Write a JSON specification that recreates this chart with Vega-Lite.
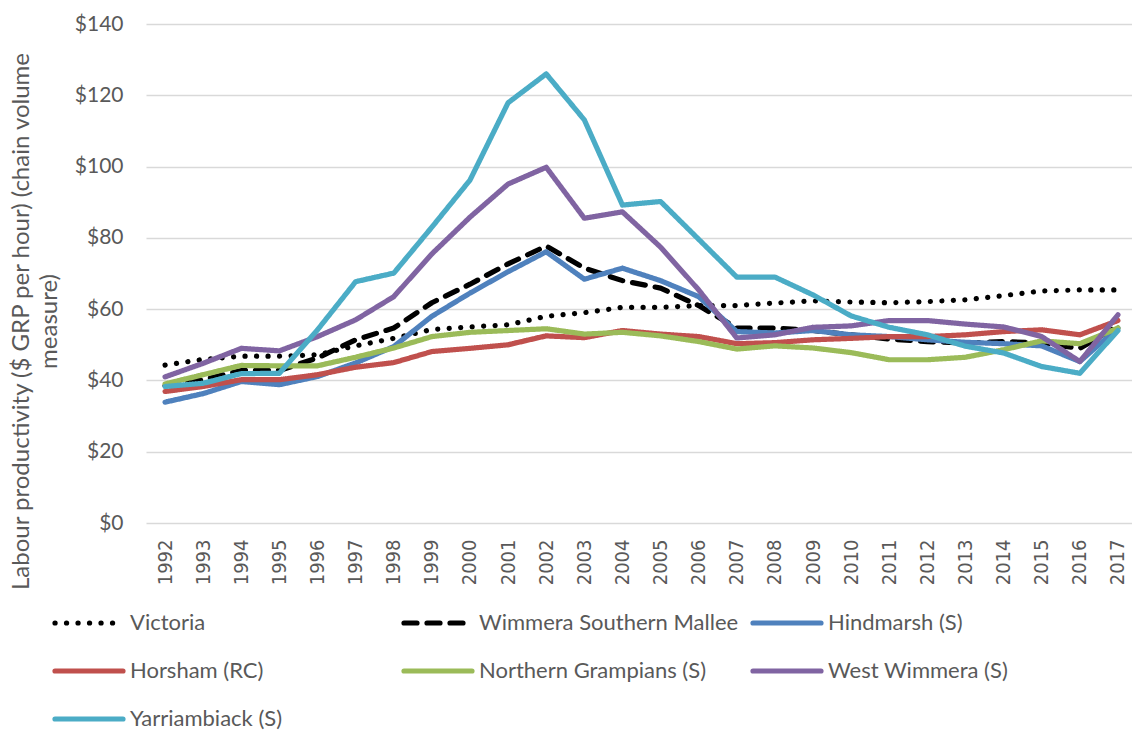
{
  "$schema": "https://vega.github.io/schema/vega-lite/v6.json",
  "autosize": "none",
  "width": 991,
  "height": 499,
  "padding": {"left": 146, "top": 24, "right": 0, "bottom": 208},
  "background": "white",
  "config": {"view": {"stroke": null}, "font": "Lato"},
  "data": {"values": [
    {"year": "1992", "series": "Victoria", "value": 44.3},
    {"year": "1993", "series": "Victoria", "value": 45.9},
    {"year": "1994", "series": "Victoria", "value": 46.8},
    {"year": "1995", "series": "Victoria", "value": 46.8},
    {"year": "1996", "series": "Victoria", "value": 47.2},
    {"year": "1997", "series": "Victoria", "value": 49.7},
    {"year": "1998", "series": "Victoria", "value": 51.8},
    {"year": "1999", "series": "Victoria", "value": 54.3},
    {"year": "2000", "series": "Victoria", "value": 55.0},
    {"year": "2001", "series": "Victoria", "value": 55.6},
    {"year": "2002", "series": "Victoria", "value": 58.0},
    {"year": "2003", "series": "Victoria", "value": 59.0},
    {"year": "2004", "series": "Victoria", "value": 60.5},
    {"year": "2005", "series": "Victoria", "value": 60.5},
    {"year": "2006", "series": "Victoria", "value": 61.0},
    {"year": "2007", "series": "Victoria", "value": 61.0},
    {"year": "2008", "series": "Victoria", "value": 61.7},
    {"year": "2009", "series": "Victoria", "value": 62.3},
    {"year": "2010", "series": "Victoria", "value": 62.0},
    {"year": "2011", "series": "Victoria", "value": 61.8},
    {"year": "2012", "series": "Victoria", "value": 62.1},
    {"year": "2013", "series": "Victoria", "value": 62.6},
    {"year": "2014", "series": "Victoria", "value": 63.8},
    {"year": "2015", "series": "Victoria", "value": 65.1},
    {"year": "2016", "series": "Victoria", "value": 65.4},
    {"year": "2017", "series": "Victoria", "value": 65.4},
    {"year": "1992", "series": "Wimmera Southern Mallee", "value": 38.5},
    {"year": "1993", "series": "Wimmera Southern Mallee", "value": 40.2},
    {"year": "1994", "series": "Wimmera Southern Mallee", "value": 42.8},
    {"year": "1995", "series": "Wimmera Southern Mallee", "value": 42.8},
    {"year": "1996", "series": "Wimmera Southern Mallee", "value": 46.3},
    {"year": "1997", "series": "Wimmera Southern Mallee", "value": 51.4},
    {"year": "1998", "series": "Wimmera Southern Mallee", "value": 54.7},
    {"year": "1999", "series": "Wimmera Southern Mallee", "value": 61.8},
    {"year": "2000", "series": "Wimmera Southern Mallee", "value": 67.0},
    {"year": "2001", "series": "Wimmera Southern Mallee", "value": 72.7},
    {"year": "2002", "series": "Wimmera Southern Mallee", "value": 77.7},
    {"year": "2003", "series": "Wimmera Southern Mallee", "value": 71.5},
    {"year": "2004", "series": "Wimmera Southern Mallee", "value": 68.0},
    {"year": "2005", "series": "Wimmera Southern Mallee", "value": 65.9},
    {"year": "2006", "series": "Wimmera Southern Mallee", "value": 61.0},
    {"year": "2007", "series": "Wimmera Southern Mallee", "value": 54.7},
    {"year": "2008", "series": "Wimmera Southern Mallee", "value": 54.7},
    {"year": "2009", "series": "Wimmera Southern Mallee", "value": 54.0},
    {"year": "2010", "series": "Wimmera Southern Mallee", "value": 52.8},
    {"year": "2011", "series": "Wimmera Southern Mallee", "value": 51.6},
    {"year": "2012", "series": "Wimmera Southern Mallee", "value": 50.9},
    {"year": "2013", "series": "Wimmera Southern Mallee", "value": 50.5},
    {"year": "2014", "series": "Wimmera Southern Mallee", "value": 50.9},
    {"year": "2015", "series": "Wimmera Southern Mallee", "value": 50.5},
    {"year": "2016", "series": "Wimmera Southern Mallee", "value": 49.0},
    {"year": "2017", "series": "Wimmera Southern Mallee", "value": 55.3},
    {"year": "1992", "series": "Hindmarsh (S)", "value": 33.9},
    {"year": "1993", "series": "Hindmarsh (S)", "value": 36.3},
    {"year": "1994", "series": "Hindmarsh (S)", "value": 39.7},
    {"year": "1995", "series": "Hindmarsh (S)", "value": 38.8},
    {"year": "1996", "series": "Hindmarsh (S)", "value": 41.1},
    {"year": "1997", "series": "Hindmarsh (S)", "value": 44.9},
    {"year": "1998", "series": "Hindmarsh (S)", "value": 49.5},
    {"year": "1999", "series": "Hindmarsh (S)", "value": 58.0},
    {"year": "2000", "series": "Hindmarsh (S)", "value": 64.5},
    {"year": "2001", "series": "Hindmarsh (S)", "value": 70.5},
    {"year": "2002", "series": "Hindmarsh (S)", "value": 76.1},
    {"year": "2003", "series": "Hindmarsh (S)", "value": 68.4},
    {"year": "2004", "series": "Hindmarsh (S)", "value": 71.5},
    {"year": "2005", "series": "Hindmarsh (S)", "value": 68.0},
    {"year": "2006", "series": "Hindmarsh (S)", "value": 63.5},
    {"year": "2007", "series": "Hindmarsh (S)", "value": 53.7},
    {"year": "2008", "series": "Hindmarsh (S)", "value": 53.3},
    {"year": "2009", "series": "Hindmarsh (S)", "value": 54.0},
    {"year": "2010", "series": "Hindmarsh (S)", "value": 52.8},
    {"year": "2011", "series": "Hindmarsh (S)", "value": 52.3},
    {"year": "2012", "series": "Hindmarsh (S)", "value": 51.4},
    {"year": "2013", "series": "Hindmarsh (S)", "value": 50.7},
    {"year": "2014", "series": "Hindmarsh (S)", "value": 50.3},
    {"year": "2015", "series": "Hindmarsh (S)", "value": 49.7},
    {"year": "2016", "series": "Hindmarsh (S)", "value": 45.3},
    {"year": "2017", "series": "Hindmarsh (S)", "value": 54.7},
    {"year": "1992", "series": "Horsham (RC)", "value": 36.9},
    {"year": "1993", "series": "Horsham (RC)", "value": 38.3},
    {"year": "1994", "series": "Horsham (RC)", "value": 40.2},
    {"year": "1995", "series": "Horsham (RC)", "value": 40.2},
    {"year": "1996", "series": "Horsham (RC)", "value": 41.6},
    {"year": "1997", "series": "Horsham (RC)", "value": 43.7},
    {"year": "1998", "series": "Horsham (RC)", "value": 45.0},
    {"year": "1999", "series": "Horsham (RC)", "value": 48.1},
    {"year": "2000", "series": "Horsham (RC)", "value": 49.0},
    {"year": "2001", "series": "Horsham (RC)", "value": 50.0},
    {"year": "2002", "series": "Horsham (RC)", "value": 52.5},
    {"year": "2003", "series": "Horsham (RC)", "value": 52.0},
    {"year": "2004", "series": "Horsham (RC)", "value": 54.0},
    {"year": "2005", "series": "Horsham (RC)", "value": 53.0},
    {"year": "2006", "series": "Horsham (RC)", "value": 52.3},
    {"year": "2007", "series": "Horsham (RC)", "value": 50.3},
    {"year": "2008", "series": "Horsham (RC)", "value": 50.6},
    {"year": "2009", "series": "Horsham (RC)", "value": 51.4},
    {"year": "2010", "series": "Horsham (RC)", "value": 51.8},
    {"year": "2011", "series": "Horsham (RC)", "value": 52.3},
    {"year": "2012", "series": "Horsham (RC)", "value": 52.3},
    {"year": "2013", "series": "Horsham (RC)", "value": 52.8},
    {"year": "2014", "series": "Horsham (RC)", "value": 53.7},
    {"year": "2015", "series": "Horsham (RC)", "value": 54.2},
    {"year": "2016", "series": "Horsham (RC)", "value": 52.8},
    {"year": "2017", "series": "Horsham (RC)", "value": 56.8},
    {"year": "1992", "series": "Northern Grampians (S)", "value": 39.0},
    {"year": "1993", "series": "Northern Grampians (S)", "value": 41.6},
    {"year": "1994", "series": "Northern Grampians (S)", "value": 44.2},
    {"year": "1995", "series": "Northern Grampians (S)", "value": 44.1},
    {"year": "1996", "series": "Northern Grampians (S)", "value": 44.1},
    {"year": "1997", "series": "Northern Grampians (S)", "value": 46.5},
    {"year": "1998", "series": "Northern Grampians (S)", "value": 49.1},
    {"year": "1999", "series": "Northern Grampians (S)", "value": 52.3},
    {"year": "2000", "series": "Northern Grampians (S)", "value": 53.5},
    {"year": "2001", "series": "Northern Grampians (S)", "value": 54.0},
    {"year": "2002", "series": "Northern Grampians (S)", "value": 54.5},
    {"year": "2003", "series": "Northern Grampians (S)", "value": 53.0},
    {"year": "2004", "series": "Northern Grampians (S)", "value": 53.5},
    {"year": "2005", "series": "Northern Grampians (S)", "value": 52.5},
    {"year": "2006", "series": "Northern Grampians (S)", "value": 50.9},
    {"year": "2007", "series": "Northern Grampians (S)", "value": 48.8},
    {"year": "2008", "series": "Northern Grampians (S)", "value": 49.7},
    {"year": "2009", "series": "Northern Grampians (S)", "value": 49.1},
    {"year": "2010", "series": "Northern Grampians (S)", "value": 47.8},
    {"year": "2011", "series": "Northern Grampians (S)", "value": 45.8},
    {"year": "2012", "series": "Northern Grampians (S)", "value": 45.8},
    {"year": "2013", "series": "Northern Grampians (S)", "value": 46.5},
    {"year": "2014", "series": "Northern Grampians (S)", "value": 48.6},
    {"year": "2015", "series": "Northern Grampians (S)", "value": 51.1},
    {"year": "2016", "series": "Northern Grampians (S)", "value": 50.3},
    {"year": "2017", "series": "Northern Grampians (S)", "value": 54.7},
    {"year": "1992", "series": "West Wimmera (S)", "value": 41.0},
    {"year": "1993", "series": "West Wimmera (S)", "value": 44.8},
    {"year": "1994", "series": "West Wimmera (S)", "value": 49.0},
    {"year": "1995", "series": "West Wimmera (S)", "value": 48.3},
    {"year": "1996", "series": "West Wimmera (S)", "value": 52.3},
    {"year": "1997", "series": "West Wimmera (S)", "value": 57.0},
    {"year": "1998", "series": "West Wimmera (S)", "value": 63.5},
    {"year": "1999", "series": "West Wimmera (S)", "value": 75.5},
    {"year": "2000", "series": "West Wimmera (S)", "value": 85.8},
    {"year": "2001", "series": "West Wimmera (S)", "value": 95.1},
    {"year": "2002", "series": "West Wimmera (S)", "value": 99.8},
    {"year": "2003", "series": "West Wimmera (S)", "value": 85.5},
    {"year": "2004", "series": "West Wimmera (S)", "value": 87.3},
    {"year": "2005", "series": "West Wimmera (S)", "value": 77.4},
    {"year": "2006", "series": "West Wimmera (S)", "value": 65.4},
    {"year": "2007", "series": "West Wimmera (S)", "value": 51.9},
    {"year": "2008", "series": "West Wimmera (S)", "value": 52.8},
    {"year": "2009", "series": "West Wimmera (S)", "value": 54.9},
    {"year": "2010", "series": "West Wimmera (S)", "value": 55.3},
    {"year": "2011", "series": "West Wimmera (S)", "value": 56.8},
    {"year": "2012", "series": "West Wimmera (S)", "value": 56.8},
    {"year": "2013", "series": "West Wimmera (S)", "value": 55.8},
    {"year": "2014", "series": "West Wimmera (S)", "value": 55.0},
    {"year": "2015", "series": "West Wimmera (S)", "value": 52.3},
    {"year": "2016", "series": "West Wimmera (S)", "value": 45.3},
    {"year": "2017", "series": "West Wimmera (S)", "value": 58.4},
    {"year": "1992", "series": "Yarriambiack (S)", "value": 38.3},
    {"year": "1993", "series": "Yarriambiack (S)", "value": 39.2},
    {"year": "1994", "series": "Yarriambiack (S)", "value": 41.9},
    {"year": "1995", "series": "Yarriambiack (S)", "value": 42.0},
    {"year": "1996", "series": "Yarriambiack (S)", "value": 54.2},
    {"year": "1997", "series": "Yarriambiack (S)", "value": 67.7},
    {"year": "1998", "series": "Yarriambiack (S)", "value": 70.1},
    {"year": "1999", "series": "Yarriambiack (S)", "value": 83.0},
    {"year": "2000", "series": "Yarriambiack (S)", "value": 96.2},
    {"year": "2001", "series": "Yarriambiack (S)", "value": 117.9},
    {"year": "2002", "series": "Yarriambiack (S)", "value": 126.0},
    {"year": "2003", "series": "Yarriambiack (S)", "value": 113.1},
    {"year": "2004", "series": "Yarriambiack (S)", "value": 89.2},
    {"year": "2005", "series": "Yarriambiack (S)", "value": 90.2},
    {"year": "2006", "series": "Yarriambiack (S)", "value": 79.6},
    {"year": "2007", "series": "Yarriambiack (S)", "value": 69.0},
    {"year": "2008", "series": "Yarriambiack (S)", "value": 69.0},
    {"year": "2009", "series": "Yarriambiack (S)", "value": 64.0},
    {"year": "2010", "series": "Yarriambiack (S)", "value": 58.1},
    {"year": "2011", "series": "Yarriambiack (S)", "value": 54.9},
    {"year": "2012", "series": "Yarriambiack (S)", "value": 52.8},
    {"year": "2013", "series": "Yarriambiack (S)", "value": 49.6},
    {"year": "2014", "series": "Yarriambiack (S)", "value": 47.7},
    {"year": "2015", "series": "Yarriambiack (S)", "value": 43.9},
    {"year": "2016", "series": "Yarriambiack (S)", "value": 42.0},
    {"year": "2017", "series": "Yarriambiack (S)", "value": 54.0}
  ]},
  "mark": {"type": "line", "strokeWidth": 5.2, "strokeCap": "round", "strokeJoin": "round"},
  "encoding": {
    "x": {
      "field": "year", "type": "ordinal",
      "scale": {"type": "point", "padding": 0.5},
      "axis": {"title": null, "labelAngle": -90, "labelFont": "Liberation Sans Narrow, DejaVu Sans Condensed, Lato", "labelFontSize": 20, "labelColor": "#595959", "labelPadding": 16, "ticks": false, "domain": false, "grid": false}
    },
    "y": {
      "field": "value", "type": "quantitative",
      "scale": {"domain": [0, 140]},
      "axis": {
        "values": [0, 20, 40, 60, 80, 100, 120, 140],
        "format": "$.0f",
        "labelFontSize": 21, "labelColor": "#595959", "labelPadding": 23,
        "ticks": false, "domain": false,
        "gridColor": "#d9d9d9", "gridWidth": 1.3,
        "title": ["Labour productivity ($ GRP per hour) (chain volume", "measure)"],
        "titleFontSize": 24, "titleFontWeight": "normal", "titleColor": "#595959",
        "titleAngle": -90, "titleAlign": "center", "titleBaseline": "alphabetic",
        "titleX": -118, "titleY": 297, "titleLineHeight": 28
      }
    },
    "color": {
      "field": "series", "type": "nominal",
      "scale": {
        "domain": ["Victoria", "Wimmera Southern Mallee", "Hindmarsh (S)", "Horsham (RC)", "Northern Grampians (S)", "West Wimmera (S)", "Yarriambiack (S)"],
        "range": ["#000000", "#000000", "#4f81bd", "#c0504d", "#9bbb59", "#8064a2", "#4bacc6"]
      },
      "legend": {
        "title": null, "orient": "none", "legendX": -94, "legendY": 562, "direction": "horizontal",
        "columns": 3, "gridAlign": "all", "columnPadding": 3, "rowPadding": -8,
        "symbolType": "stroke", "symbolSize": 4624, "symbolStrokeWidth": 5.2,
        "labelFontSize": 22, "labelColor": "#595959", "labelFont": "Lato", "labelOffset": 4, "labelLimit": 400,
        "padding": 0,
        "encoding": {"symbols": {"strokeCap": {"value": "round"}}}
      }
    },
    "strokeDash": {
      "field": "series", "type": "nominal",
      "scale": {
        "domain": ["Victoria", "Wimmera Southern Mallee", "Hindmarsh (S)", "Horsham (RC)", "Northern Grampians (S)", "West Wimmera (S)", "Yarriambiack (S)"],
        "range": [[0.1, 11.4], [13, 10], [1, 0], [1, 0], [1, 0], [1, 0], [1, 0]]
      },
      "legend": {
        "title": null, "orient": "none", "legendX": -94, "legendY": 562, "direction": "horizontal",
        "columns": 3, "gridAlign": "all", "columnPadding": 3, "rowPadding": -8,
        "symbolType": "stroke", "symbolSize": 4624, "symbolStrokeWidth": 5.2,
        "labelFontSize": 22, "labelColor": "#595959", "labelFont": "Lato", "labelOffset": 4, "labelLimit": 400,
        "padding": 0,
        "encoding": {"symbols": {"strokeCap": {"value": "round"}}}
      }
    }
  }
}
